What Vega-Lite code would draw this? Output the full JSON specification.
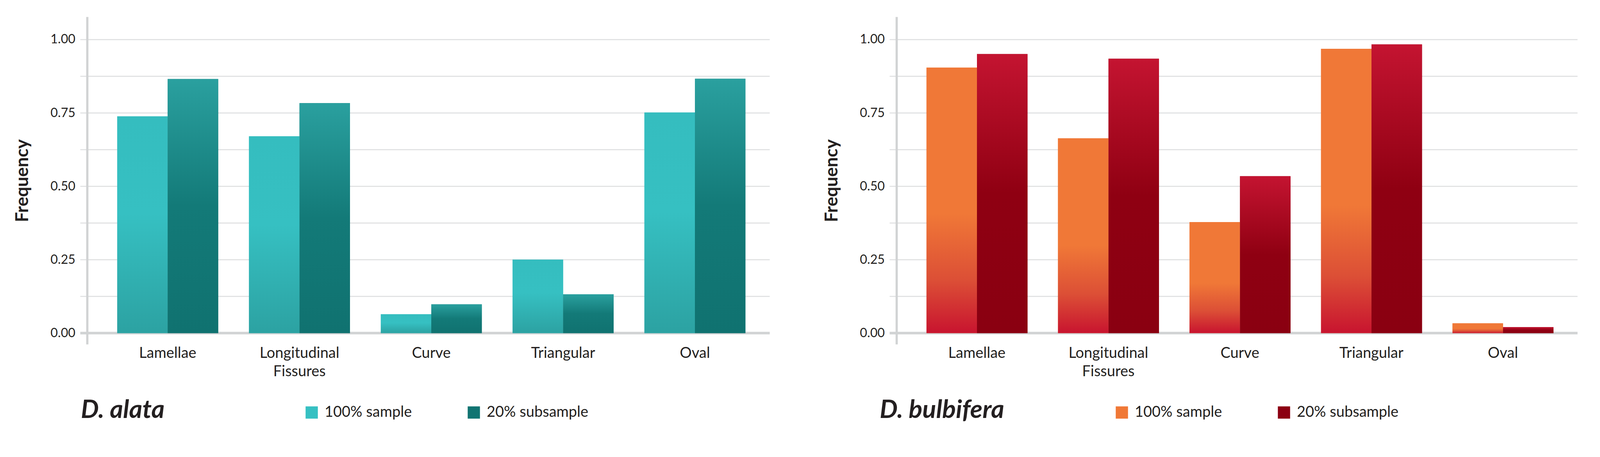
{
  "$schema": "https://vega.github.io/schema/vega-lite/v6.json",
  "background": "white",
  "padding": {"left": 35, "top": 43, "right": 5, "bottom": 5},
  "config": {
    "font": "Lato",
    "view": {"stroke": null},
    "concat": {"spacing": 137}
  },
  "datasets": {
    "freq": [
      {"species": "D. alata", "feature": "Lamellae", "sample": "100% sample", "value": 0.738},
      {"species": "D. alata", "feature": "Lamellae", "sample": "20% subsample", "value": 0.865},
      {"species": "D. alata", "feature": "Longitudinal Fissures", "sample": "100% sample", "value": 0.670},
      {"species": "D. alata", "feature": "Longitudinal Fissures", "sample": "20% subsample", "value": 0.783},
      {"species": "D. alata", "feature": "Curve", "sample": "100% sample", "value": 0.064},
      {"species": "D. alata", "feature": "Curve", "sample": "20% subsample", "value": 0.098},
      {"species": "D. alata", "feature": "Triangular", "sample": "100% sample", "value": 0.250},
      {"species": "D. alata", "feature": "Triangular", "sample": "20% subsample", "value": 0.132},
      {"species": "D. alata", "feature": "Oval", "sample": "100% sample", "value": 0.751},
      {"species": "D. alata", "feature": "Oval", "sample": "20% subsample", "value": 0.866},
      {"species": "D. bulbifera", "feature": "Lamellae", "sample": "100% sample", "value": 0.904},
      {"species": "D. bulbifera", "feature": "Lamellae", "sample": "20% subsample", "value": 0.950},
      {"species": "D. bulbifera", "feature": "Longitudinal Fissures", "sample": "100% sample", "value": 0.663},
      {"species": "D. bulbifera", "feature": "Longitudinal Fissures", "sample": "20% subsample", "value": 0.934},
      {"species": "D. bulbifera", "feature": "Curve", "sample": "100% sample", "value": 0.378},
      {"species": "D. bulbifera", "feature": "Curve", "sample": "20% subsample", "value": 0.534},
      {"species": "D. bulbifera", "feature": "Triangular", "sample": "100% sample", "value": 0.968},
      {"species": "D. bulbifera", "feature": "Triangular", "sample": "20% subsample", "value": 0.983},
      {"species": "D. bulbifera", "feature": "Oval", "sample": "100% sample", "value": 0.033},
      {"species": "D. bulbifera", "feature": "Oval", "sample": "20% subsample", "value": 0.020}
    ]
  },
  "resolve": {"scale": {"color": "independent", "y": "independent", "x": "independent"}, "legend": {"color": "independent"}},
  "hconcat": [
    {
      "width": 1747,
      "height": 839,
      "data": {"name": "freq"},
      "transform": [{"filter": "datum.species === 'D. alata'"}],
      "title": {"text": "D. alata", "orient": "bottom", "anchor": "start", "frame": "group", "fontSize": 65, "fontStyle": "italic", "fontWeight": "bold", "color": "#231f20", "dx": -16, "dy": -56, "offset": 0},
      "encoding": {
        "x": {
          "field": "feature", "type": "nominal",
          "sort": ["Lamellae", "Longitudinal Fissures", "Curve", "Triangular", "Oval"],
          "scale": {"paddingInner": 0.2338, "paddingOuter": 0.2056, "align": 0.555},
          "axis": {"title": null, "domain": false, "ticks": false, "grid": false, "labelAngle": 0, "labelFontSize": 38, "labelColor": "#231f20", "labelPadding": 4, "labelLimit": 0, "labelOverlap": false, "labelLineHeight": 47.5, "labelExpr": "datum.value === 'Longitudinal Fissures' ? ['Longitudinal', 'Fissures'] : datum.label"}
        },
        "xOffset": {"field": "sample", "type": "nominal", "sort": ["100% sample", "20% subsample"]},
        "y": {
          "field": "value", "type": "quantitative",
          "scale": {"domain": [-0.038, 1.077], "nice": false, "zero": false},
          "axis": {
            "title": "Frequency", "titleFontSize": 45.6, "titleFontWeight": "bold", "titleColor": "#231f20", "titlePadding": 47.5,
            "values": [0, 0.125, 0.25, 0.375, 0.5, 0.625, 0.75, 0.875, 1],
            "labelExpr": "datum.value % 0.25 === 0 ? format(datum.value, '.2f') : ''",
            "labelFontSize": 32.3, "labelColor": "#231f20", "labelPadding": 12.4,
            "domainColor": "#d1d3d4", "domainWidth": 5.7,
            "tickSize": 18,
            "tickColor": {"condition": {"test": "datum.value === 0", "value": "#d1d3d4"}, "value": "#e2e3e4"},
            "tickWidth": {"condition": {"test": "datum.value === 0", "value": 6.6}, "value": 2.85},
            "grid": true,
            "gridColor": {"condition": {"test": "datum.value === 0", "value": "#d1d3d4"}, "value": "#e2e3e4"},
            "gridWidth": {"condition": {"test": "datum.value === 0", "value": 6.6}, "value": 2.85}
          }
        },
        "y2": {"datum": 0}
      },
      "layer": [
        {
          "mark": {"type": "bar"},
          "encoding": {
            "color": {
              "field": "sample", "type": "nominal",
              "scale": {"domain": ["100% sample", "20% subsample"], "range": ["#36c0c2", "#117472"]},
              "legend": {"orient": "none", "legendX": 556, "legendY": 995, "direction": "horizontal", "title": null, "symbolType": "square", "symbolSize": 985, "symbolStrokeWidth": 0, "symbolOpacity": 1, "labelFontSize": 38, "labelColor": "#231f20", "labelOffset": 14, "labelLimit": 0, "columnPadding": 139, "padding": 0}
            }
          }
        },
        {
          "mark": {"type": "bar"},
          "encoding": {
            "fill": {
              "condition": {"test": "datum.sample === '100% sample'", "value": {"gradient": "linear", "x1": 0, "y1": 0, "x2": 0, "y2": 1, "stops": [{"offset": 0, "color": "#35bdbf"}, {"offset": 0.45, "color": "#36c0c2"}, {"offset": 1, "color": "#2ca2a2"}]}},
              "value": {"gradient": "linear", "x1": 0, "y1": 0, "x2": 0, "y2": 1, "stops": [{"offset": 0, "color": "#2aa09f"}, {"offset": 0.5, "color": "#137a78"}, {"offset": 1, "color": "#107270"}]}
            }
          }
        }
      ]
    },
    {
      "width": 1743,
      "height": 839,
      "data": {"name": "freq"},
      "transform": [{"filter": "datum.species === 'D. bulbifera'"}],
      "title": {"text": "D. bulbifera", "orient": "bottom", "anchor": "start", "frame": "group", "fontSize": 65, "fontStyle": "italic", "fontWeight": "bold", "color": "#231f20", "dx": -43, "dy": -56, "offset": 0},
      "encoding": {
        "x": {
          "field": "feature", "type": "nominal",
          "sort": ["Lamellae", "Longitudinal Fissures", "Curve", "Triangular", "Oval"],
          "scale": {"paddingInner": 0.2338, "paddingOuter": 0.2056, "align": 0.555},
          "axis": {"title": null, "domain": false, "ticks": false, "grid": false, "labelAngle": 0, "labelFontSize": 38, "labelColor": "#231f20", "labelPadding": 4, "labelLimit": 0, "labelOverlap": false, "labelLineHeight": 47.5, "labelExpr": "datum.value === 'Longitudinal Fissures' ? ['Longitudinal', 'Fissures'] : datum.label"}
        },
        "xOffset": {"field": "sample", "type": "nominal", "sort": ["100% sample", "20% subsample"]},
        "y": {
          "field": "value", "type": "quantitative",
          "scale": {"domain": [-0.038, 1.077], "nice": false, "zero": false},
          "axis": {
            "title": "Frequency", "titleFontSize": 45.6, "titleFontWeight": "bold", "titleColor": "#231f20", "titlePadding": 47.5,
            "values": [0, 0.125, 0.25, 0.375, 0.5, 0.625, 0.75, 0.875, 1],
            "labelExpr": "datum.value % 0.25 === 0 ? format(datum.value, '.2f') : ''",
            "labelFontSize": 32.3, "labelColor": "#231f20", "labelPadding": 12.4,
            "domainColor": "#d1d3d4", "domainWidth": 5.7,
            "tickSize": 18,
            "tickColor": {"condition": {"test": "datum.value === 0", "value": "#d1d3d4"}, "value": "#e2e3e4"},
            "tickWidth": {"condition": {"test": "datum.value === 0", "value": 6.6}, "value": 2.85},
            "grid": true,
            "gridColor": {"condition": {"test": "datum.value === 0", "value": "#d1d3d4"}, "value": "#e2e3e4"},
            "gridWidth": {"condition": {"test": "datum.value === 0", "value": 6.6}, "value": 2.85}
          }
        },
        "y2": {"datum": 0}
      },
      "layer": [
        {
          "mark": {"type": "bar"},
          "encoding": {
            "color": {
              "field": "sample", "type": "nominal",
              "scale": {"domain": ["100% sample", "20% subsample"], "range": ["#f07836", "#8c0012"]},
              "legend": {"orient": "none", "legendX": 558, "legendY": 995, "direction": "horizontal", "title": null, "symbolType": "square", "symbolSize": 985, "symbolStrokeWidth": 0, "symbolOpacity": 1, "labelFontSize": 38, "labelColor": "#231f20", "labelOffset": 14, "labelLimit": 0, "columnPadding": 139, "padding": 0}
            }
          }
        },
        {
          "mark": {"type": "bar"},
          "encoding": {
            "fill": {
              "condition": {"test": "datum.sample === '100% sample'", "value": {"gradient": "linear", "x1": 0, "y1": 0, "x2": 0, "y2": 1, "stops": [{"offset": 0, "color": "#f07837"}, {"offset": 0.55, "color": "#f07837"}, {"offset": 0.8, "color": "#dc4f36"}, {"offset": 1, "color": "#c8142f"}]}},
              "value": {"gradient": "linear", "x1": 0, "y1": 0, "x2": 0, "y2": 1, "stops": [{"offset": 0, "color": "#c41431"}, {"offset": 0.5, "color": "#8f0012"}, {"offset": 1, "color": "#8a0011"}]}
            }
          }
        }
      ]
    }
  ]
}
